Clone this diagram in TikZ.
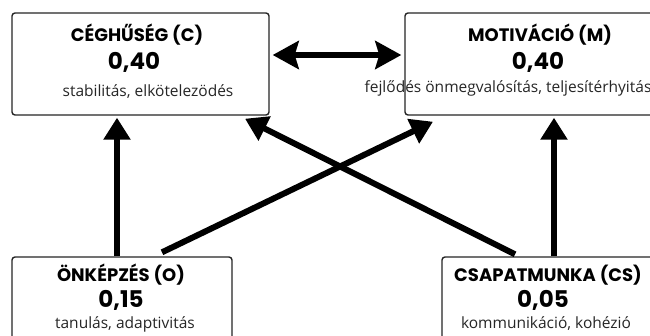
\documentclass[tikz,border=0pt]{standalone}
\usepackage{fontspec}
\setmainfont{Poppins}
\newfontfamily\subfont{Open Sans}
\usetikzlibrary{arrows.meta,calc}
\begin{document}
\begin{tikzpicture}[x=1pt,y=1pt,
  box/.style={draw=black!85,line width=1.4pt,rounded corners=3pt,fill=white,inner sep=0pt},
  ttl/.style={font=\fontsize{18}{20}\selectfont\bfseries,inner sep=0pt},
  val/.style={font=\fontsize{23}{25}\selectfont\bfseries,inner sep=0pt},
  sub/.style={font=\subfont\fontsize{15.5}{17}\selectfont,text=black!85,inner sep=0pt},
  arr/.style={line width=6pt,-{Triangle[length=22pt,width=26pt]}},
  darr/.style={line width=6pt,{Stealth[length=26pt,width=28pt,inset=4pt]}-{Stealth[length=26pt,width=28pt,inset=4pt]}}]
\clip (0,0) rectangle (650,-335);
\fill[white] (0,0) rectangle (650,-335);
% boxes
\node[box,minimum width=257pt,minimum height=102pt] (C) at (140.5,-64) {};
\node[box,minimum width=255pt,minimum height=102pt] (M) at (532.5,-64) {};
\node[box,minimum width=220pt,minimum height=88pt] (O) at (122,-301) {};
\node[box,minimum width=218pt,minimum height=88pt] (CS) at (551,-301) {};
% texts
\node[ttl] (Ct) at (137,-35) {CÉGHŰSÉG (C)};
\node[val] (Cv) at (134,-62) {0,40};
\node[sub] (Cs) at (148,-92) {stabilitás, elkötelezödés};
\node[ttl] (Mt) at (540,-35) {MOTIVÁCIÓ (M)};
\node[val] (Mv) at (538,-62) {0,40};
\node[sub] (Ms) at (508,-88) {fejlődés önmegvalósítás, teljesítérhyitás};
\node[ttl] (Ot) at (121,-275) {ÖNKÉPZÉS (O)};
\node[val] (Ov) at (121,-300) {0,15};
\node[sub] (Os) at (125,-324) {tanulás, adaptivitás};
\node[ttl] (CSt) at (548,-275) {CSAPATMUNKA (CS)};
\node[val] (CSv) at (543,-300) {0,05};
\node[sub] (CSs) at (546,-324) {kommunikáció, kohézió};
% arrows
\draw[darr] ([xshift=3pt,yshift=9pt]C.east) -- ([xshift=-3pt,yshift=9pt]M.west);
\draw[arr] ([xshift=-5pt]O.north) -- ([xshift=-23.5pt,yshift=-2pt]C.south);
\draw[arr] ([xshift=40pt,yshift=4pt]O.north) -- ([xshift=-99.5pt,yshift=-6pt]M.south);
\draw[arr] ([xshift=-36pt,yshift=2pt]CS.north) -- ([xshift=104.5pt,yshift=-3pt]C.south);
\draw[arr] ([xshift=3pt]CS.north) -- ([xshift=21.5pt,yshift=-2pt]M.south);
\end{tikzpicture}
\end{document}
